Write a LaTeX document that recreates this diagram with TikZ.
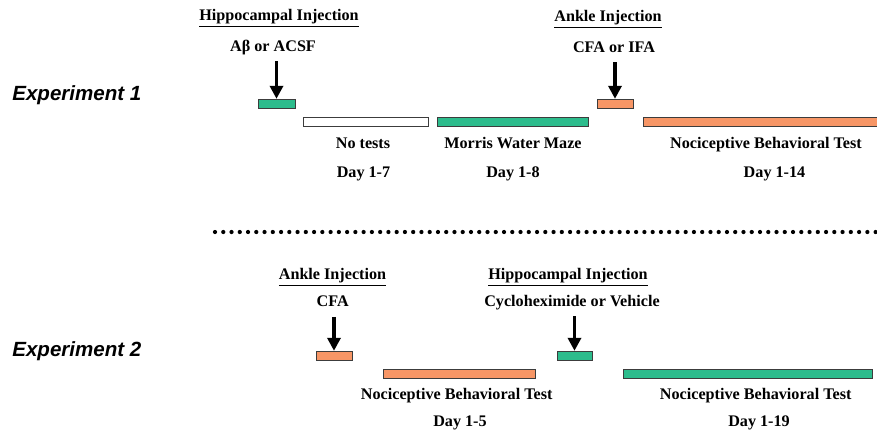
\documentclass[tikz,border=0pt]{standalone}
\usepackage{fontspec}
\setmainfont{Liberation Serif}
\setsansfont{Liberation Sans}
\usepackage{tikz}
\usetikzlibrary{arrows.meta}

\definecolor{injgreen}{RGB}{44,188,140}
\definecolor{injorange}{RGB}{247,150,102}
\definecolor{barline}{RGB}{60,60,60}

\begin{document}
\begin{tikzpicture}[x=0.02cm,y=-0.02cm,
      bar/.style={draw=barline,line width=0.5pt,inner sep=0pt,minimum height=0.19cm},
      green bar/.style={bar,fill=injgreen},
      orange bar/.style={bar,fill=injorange},
      white bar/.style={bar,fill=white},
      lbl/.style={anchor=base,inner sep=0pt,text depth=0.22em,
        font=\fontsize{9.2}{11}\selectfont\bfseries},
      exp/.style={anchor=base west,inner sep=0pt,
        font=\sffamily\bfseries\itshape\fontsize{11.7}{14}\selectfont},
      inj/.style={-{Triangle[width=7.4pt,length=7.4pt]},line width=2pt,shorten <=3.5pt}]

      \useasboundingbox (0,0) rectangle (877,434);

      % Experiment 1
      \node[exp] (e1) at (12,100) {Experiment 1};

      \node[lbl] (h1) at (279,20) {\underline{Hippocampal Injection}};
      \node[lbl] (ab) at (273,51) {Aβ or ACSF};
      \node[green bar,minimum width=0.74cm] (inj1) at (276.5,104) {};
      \node[white bar,minimum width=2.5cm] (nt) at (365.5,122) {};
      \node[green bar,minimum width=3.02cm] (mwm) at (512.5,122) {};

      \node[lbl] (a1) at (608,21) {\underline{Ankle Injection}};
      \node[lbl] (cfa1) at (614,52) {CFA or IFA};
      \node[orange bar,minimum width=0.72cm] (inj2) at (615,104) {};
      \node[orange bar,minimum width=4.9cm] (noci1) at (766,122) {};

      \node[lbl] (t1) at (363,148) {No tests};
      \node[lbl] (d1) at (363.5,177) {Day 1-7};
      \node[lbl] (t2) at (513,148) {Morris Water Maze};
      \node[lbl] (d2) at (513,177) {Day 1-8};
      \node[lbl] (t3) at (766,148) {Nociceptive Behavioral Test};
      \node[lbl] (d3) at (774.5,177) {Day 1-14};

      \draw[inj] (inj1.north |- ab.south) -- (inj1.north);
      \draw[inj] (inj2.north |- cfa1.south) -- (inj2.north);

      % separator
      \coordinate (s1) at (215,232);
      \coordinate (s2) at (880,232);
      \draw[line width=2.4pt,line cap=round,dash pattern=on 0pt off 4.7pt] (s1) -- (s2);

      % Experiment 2
      \node[exp] (e2) at (12,356) {Experiment 2};

      \node[lbl] (a2) at (332.5,279) {\underline{Ankle Injection}};
      \node[lbl] (cfa2) at (332.7,306.5) {CFA};
      \node[orange bar,minimum width=0.72cm] (inj3) at (334,356) {};
      \node[orange bar,minimum width=3.04cm] (noci2) at (459,374) {};

      \node[lbl] (h2) at (568,279) {\underline{Hippocampal Injection}};
      \node[lbl] (cx) at (572,306) {Cycloheximide or Vehicle};
      \node[green bar,minimum width=0.7cm] (inj4) at (574.5,356) {};
      \node[green bar,minimum width=4.98cm] (noci3) at (747.5,374) {};

      \node[lbl] (t4) at (456.7,399) {Nociceptive Behavioral Test};
      \node[lbl] (d4) at (460,426.5) {Day 1-5};
      \node[lbl] (t5) at (755.7,399) {Nociceptive Behavioral Test};
      \node[lbl] (d5) at (759,426) {Day 1-19};

      \draw[inj] (inj3.north |- cfa2.south) -- (inj3.north);
      \draw[inj] (inj4.north |- cx.south) -- (inj4.north);
    \end{tikzpicture}
\end{document}
